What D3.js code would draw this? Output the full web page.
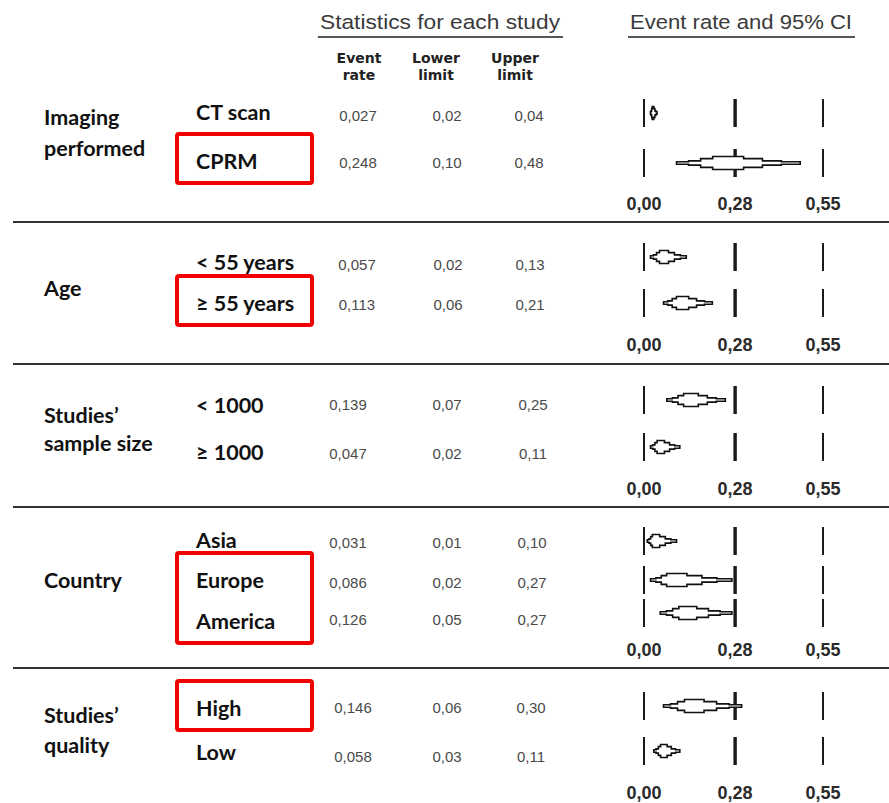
<!DOCTYPE html>
<html>
<head>
<meta charset="utf-8">
<script src="https://cdn.jsdelivr.net/npm/d3@7"></script>
<style>
  html, body { margin: 0; padding: 0; background: #fff; }
  svg { display: block; }
</style>
</head>
<body>
<div id="chart"></div>
<script>
// Subgroup meta-analysis: pooled event rates with 95% CI
const groups = ["Imaging\nperformed", "Age", "Studies’\nsample size", "Country", "Studies’\nquality"];
const subgroups = [
  ["CT scan", "CPRM"],
  ["< 55 years", "≥ 55 years"],
  ["< 1000", "≥ 1000"],
  ["Asia", "Europe", "America"],
  ["High", "Low"]
];
const eventRate = [0.027, 0.248, 0.057, 0.113, 0.139, 0.047, 0.031, 0.086, 0.126, 0.146, 0.058];
const lowerLimit = [0.02, 0.10, 0.02, 0.06, 0.07, 0.02, 0.01, 0.02, 0.05, 0.06, 0.03];
const upperLimit = [0.04, 0.48, 0.13, 0.21, 0.25, 0.11, 0.10, 0.27, 0.27, 0.30, 0.11];
const eventLabels = ["0,027", "0,248", "0,057", "0,113", "0,139", "0,047", "0,031", "0,086", "0,126", "0,146", "0,058"];
const lowerLabels = ["0,02", "0,10", "0,02", "0,06", "0,07", "0,02", "0,01", "0,02", "0,05", "0,06", "0,03"];
const upperLabels = ["0,04", "0,48", "0,13", "0,21", "0,25", "0,11", "0,10", "0,27", "0,27", "0,30", "0,11"];
const tickValues = [0, 0.28, 0.55];
const tickLabels = ["0,00", "0,28", "0,55"];
const highlighted = [[1], [1], [], [1, 2], [0]];

// Layout
const W = 889, H = 803;
const rowMarkY = [113, 163, 257, 303, 400, 447, 541, 580, 613, 706, 751];
const rowTextY = [112, 161, 262, 303, 405, 452, 540, 580, 621, 708, 752];
const rowValueY = [116, 163, 265, 305, 405, 454, 543, 583, 620, 708, 757];
const groupLabelY = [[117, 148], [288], [415, 443], [580], [715, 745]];
const axisLabelY = [204, 345, 489, 650, 793];
const separatorY = [222, 364, 507, 668];
const valueColX = [[358, 447, 529], [357, 448, 530], [348, 447, 533], [348, 447, 532], [353, 447, 531]];

const x = d3.scaleLinear().domain([0, 0.55]).range([644, 823]);

const svg = d3.select("#chart").append("svg")
  .attr("width", W).attr("height", H)
  .attr("viewBox", `0 0 ${W} ${H}`);
svg.append("rect").attr("width", W).attr("height", H).attr("fill", "#fff");

const labelFont = "Lato, 'Open Sans', sans-serif";
const plainFont = "'Liberation Sans', Arial, sans-serif";

// Column titles
const titles = [
  { text: "Statistics for each study", cx: 440, x0: 318, x1: 563, w: 240 },
  { text: "Event rate and 95% CI", cx: 741, x0: 628, x1: 855, w: 222 }
];
titles.forEach(t => {
  svg.append("text").attr("x", t.cx).attr("y", 29)
    .attr("text-anchor", "middle")
    .attr("font-family", plainFont).attr("font-size", 20.5)
    .attr("textLength", t.w).attr("lengthAdjust", "spacingAndGlyphs")
    .attr("fill", "#3a3a3a").text(t.text);
  svg.append("line").attr("x1", t.x0).attr("x2", t.x1)
    .attr("y1", 37).attr("y2", 37)
    .attr("stroke", "#555").attr("stroke-width", 2);
});

const colHeads = [["Event", "rate"], ["Lower", "limit"], ["Upper", "limit"]];
const colHeadX = [359, 436, 515];
colHeads.forEach((lines, i) => {
  lines.forEach((ln, j) => {
    svg.append("text").attr("x", colHeadX[i]).attr("y", 63 + j * 17)
      .attr("text-anchor", "middle")
      .attr("font-family", "'DejaVu Sans', Verdana, sans-serif")
      .attr("font-weight", "bold").attr("font-size", 14)
      .attr("fill", "#222").text(ln);
  });
});

// Group separators
svg.selectAll("line.sep").data(separatorY).join("line")
  .attr("class", "sep")
  .attr("x1", 13).attr("x2", W)
  .attr("y1", d => d).attr("y2", d => d)
  .attr("stroke", "#333").attr("stroke-width", 2.2);

// Stepped diamond outline for a pooled estimate
function diamondPath(lo, est, hi, cy, h) {
  const n = 3, t = 1.2;
  const top = [[lo, cy - t]];
  for (let k = 1; k <= n; k++) {
    const xl = lo + (est - lo) * k / (n + 1);
    top.push([xl, top[top.length - 1][1]]);
    top.push([xl, cy - h * k / n]);
  }
  const right = [];
  for (let k = n; k >= 1; k--) {
    const xr = hi - (hi - est) * k / (n + 1);
    right.push([xr, cy - h * k / n]);
    right.push([xr, k > 1 ? cy - h * (k - 1) / n : cy - t]);
  }
  right.push([hi, cy - t]);
  const upper = top.concat(right);
  const lowerPts = upper.slice().reverse().map(([px, py]) => [px, 2 * cy - py]);
  return "M" + upper.concat(lowerPts).map(p => p.join(",")).join("L") + "Z";
}

let row = 0;
groups.forEach((g, gi) => {
  // group label
  g.split("\n").forEach((ln, j) => {
    svg.append("text").attr("x", 44).attr("y", groupLabelY[gi][j])
      .attr("dy", "0.35em")
      .attr("font-family", labelFont).attr("font-weight", 700)
      .attr("font-size", 21.5).attr("fill", "#111").text(ln);
  });

  const first = row;
  subgroups[gi].forEach((s, si) => {
    const r = row;
    svg.append("text").attr("x", 196).attr("y", rowTextY[r])
      .attr("dy", "0.35em")
      .attr("font-family", labelFont).attr("font-weight", 700)
      .attr("font-size", 21.5).attr("fill", "#111").text(s);

    [eventLabels[r], lowerLabels[r], upperLabels[r]].forEach((v, ci) => {
      svg.append("text").attr("x", valueColX[gi][ci]).attr("y", rowValueY[r])
        .attr("dy", "0.35em").attr("text-anchor", "middle")
        .attr("font-family", plainFont).attr("font-size", 15)
        .attr("fill", "#4a4a4a").text(v);
    });

    // reference ticks at 0, 0.28 and 0.55
    tickValues.forEach((tv, ti) => {
      svg.append("line")
        .attr("x1", x(tv)).attr("x2", x(tv))
        .attr("y1", rowMarkY[r] - 14).attr("y2", rowMarkY[r] + 14)
        .attr("stroke", "#1a1a1a")
        .attr("stroke-width", ti === 1 ? 3.4 : 2);
    });

    svg.append("path")
      .attr("d", diamondPath(x(lowerLimit[r]), x(eventRate[r]), x(upperLimit[r]), rowMarkY[r], 6.5))
      .attr("fill", "#fff").attr("stroke", "#111").attr("stroke-width", 1.6)
      .attr("stroke-linejoin", "miter");
    row++;
  });

  // highlight boxes
  const hl = highlighted[gi];
  if (hl.length) {
    const r0 = first + hl[0], r1 = first + hl[hl.length - 1];
    const y0 = rowTextY[r0] - 27, y1 = rowTextY[r1] + 22;
    svg.append("rect").attr("x", 177).attr("y", y0)
      .attr("width", 135).attr("height", y1 - y0)
      .attr("rx", 2).attr("fill", "none")
      .attr("stroke", "#f20000").attr("stroke-width", 4);
  }

  // axis labels under each block
  tickValues.forEach((tv, ti) => {
    svg.append("text").attr("x", x(tv)).attr("y", axisLabelY[gi])
      .attr("dy", "0.35em").attr("text-anchor", "middle")
      .attr("font-family", plainFont).attr("font-weight", "bold")
      .attr("font-size", 18).attr("fill", "#2a2a2a").text(tickLabels[ti]);
  });
});
</script>
</body>
</html>
